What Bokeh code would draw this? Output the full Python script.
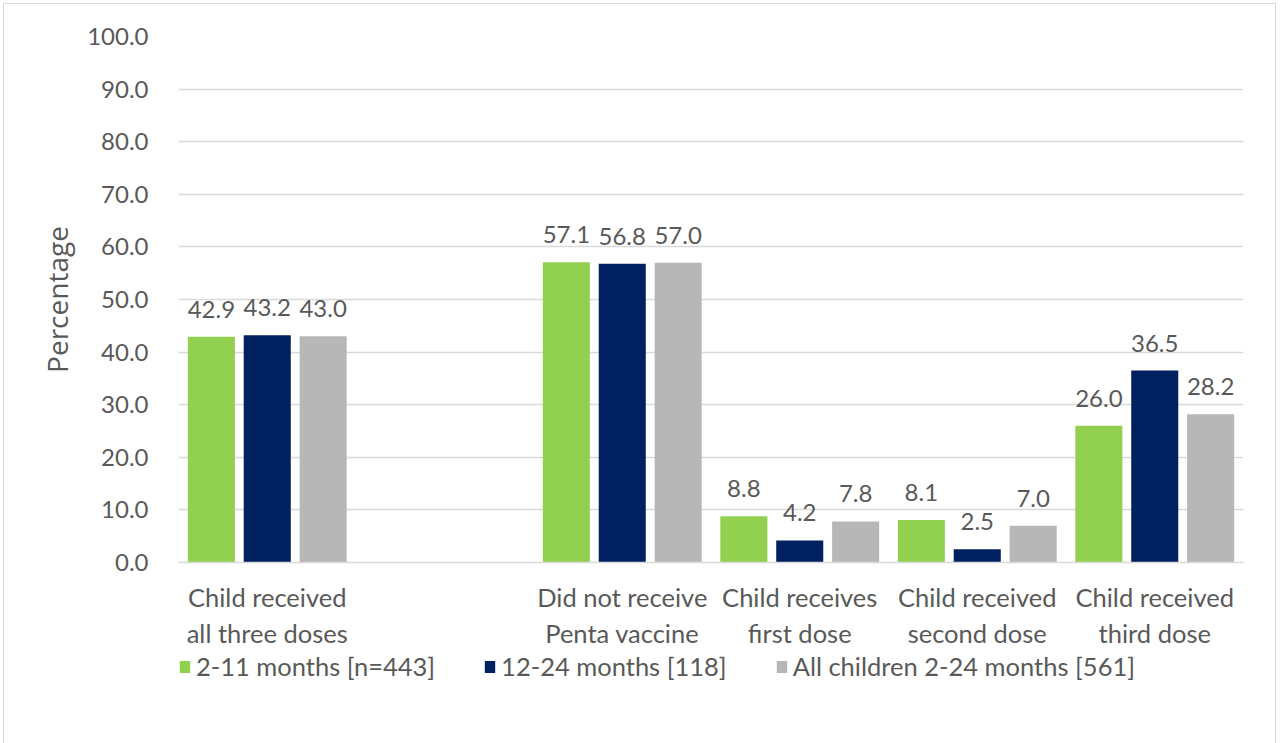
from bokeh.plotting import figure
from bokeh.layouts import column
from bokeh.models import (ColumnDataSource, FactorRange, Range1d, LabelSet, Legend,
                          LegendItem, NumeralTickFormatter, SingleIntervalTicker)
from bokeh.core.properties import value
from bokeh.transform import dodge
from bokeh.embed import file_html
from bokeh.resources import INLINE

categories = ["Child received\nall three doses", " ", "Did not receive\nPenta vaccine",
              "Child receives\nfirst dose", "Child received\nsecond dose", "Child received\nthird dose"]
bar_categories = ["Child received\nall three doses", "Did not receive\nPenta vaccine",
                  "Child receives\nfirst dose", "Child received\nsecond dose", "Child received\nthird dose"]
series_names = ["2-11 months [n=443]", "12-24 months [118]", "All children 2-24 months [561]"]
months_2_11 = [42.9, 57.1, 8.8, 8.1, 26.0]
months_12_24 = [43.2, 56.8, 4.2, 2.5, 36.5]
all_children = [43.0, 57.0, 7.8, 7.0, 28.2]
colors = ["#92D050", "#002060", "#B7B7B7"]

FONT = "Lato"
TXT = "#595959"

src = ColumnDataSource(dict(
    cat=bar_categories,
    s0=months_2_11, s1=months_12_24, s2=all_children,
    l0=[f"{v:.1f}" for v in months_2_11],
    l1=[f"{v:.1f}" for v in months_12_24],
    l2=[f"{v:.1f}" for v in all_children],
))

p = figure(x_range=FactorRange(factors=categories, range_padding=0),
           y_range=Range1d(0, 100),
           frame_width=1065, frame_height=526, output_backend="svg", toolbar_location=None,
           min_border_left=174, min_border_right=32, min_border_top=32, min_border_bottom=82)
p.outline_line_color = None

offsets = [-0.315, 0.0, 0.315]
for i, (off, col) in enumerate(zip(offsets, colors)):
    p.vbar(x=dodge("cat", off, range=p.x_range), top=f"s{i}", width=0.265,
           source=src, fill_color=col, line_color=None)
    lab = LabelSet(x=dodge("cat", off, range=p.x_range), y=f"s{i}", text=f"l{i}",
                   source=src, text_align="center", text_baseline="alphabetic",
                   y_offset=19, text_font=value(FONT), text_font_size=value("24px"),
                   text_color=TXT)
    p.add_layout(lab)

p.yaxis.ticker = SingleIntervalTicker(interval=10)
p.yaxis.formatter = NumeralTickFormatter(format="0.0")
p.yaxis.axis_line_color = None
p.yaxis.major_tick_line_color = None
p.yaxis.minor_tick_line_color = None
p.yaxis.major_label_standoff = 24
p.yaxis.axis_label = "Percentage"
p.yaxis.axis_label_standoff = 8
p.yaxis.axis_label_text_font_style = "normal"
p.yaxis.axis_label_text_font = "Open Sans"
p.yaxis.axis_label_text_font_size = "28px"
p.yaxis.axis_label_text_color = TXT
p.yaxis.major_label_text_font_size = "24px"

p.xaxis.axis_line_color = "#D9D9D9"
p.xaxis.axis_line_width = 1.5
p.xaxis.major_tick_line_color = None
p.xaxis.minor_tick_line_color = None
p.xaxis.major_label_standoff = 13
p.xaxis.major_label_text_font_size = "25.5px"

for ax in (p.xaxis, p.yaxis):
    ax.major_label_text_font = FONT
    ax.major_label_text_color = TXT

p.xgrid.grid_line_color = None
p.ygrid.grid_line_color = "#D9D9D9"
p.ygrid.grid_line_width = 1.5

# legend panel (proxy glyphs lie outside the visible range; only their styles are used)
lf = figure(width=1271, height=95, output_backend="svg", toolbar_location=None,
            min_border=0, x_range=Range1d(0, 1), y_range=Range1d(0, 1),
            x_axis_location=None, y_axis_location=None)
lf.outline_line_color = None
lf.grid.visible = False
items = []
for name, col in zip(series_names, colors):
    r = lf.vbar(x=[5], top=[5], bottom=[4], width=0.1, fill_color=col, line_color=None)
    items.append(LegendItem(label=name, renderers=[r]))
legend = Legend(items=items, orientation="horizontal", location=(0, 64),
                label_text_font=FONT, label_text_font_size="25.5px", label_text_color=TXT,
                glyph_width=13, glyph_height=15, label_standoff=5, spacing=48,
                border_line_color=None, background_fill_alpha=0, padding=6, margin=0)
lf.add_layout(legend, "center")

layout = column(p, lf, spacing=0)
layout.styles = {"border": "1px solid #D9D9D9", "margin": "3px"}

open("out.html", "w").write(file_html(layout, INLINE))
